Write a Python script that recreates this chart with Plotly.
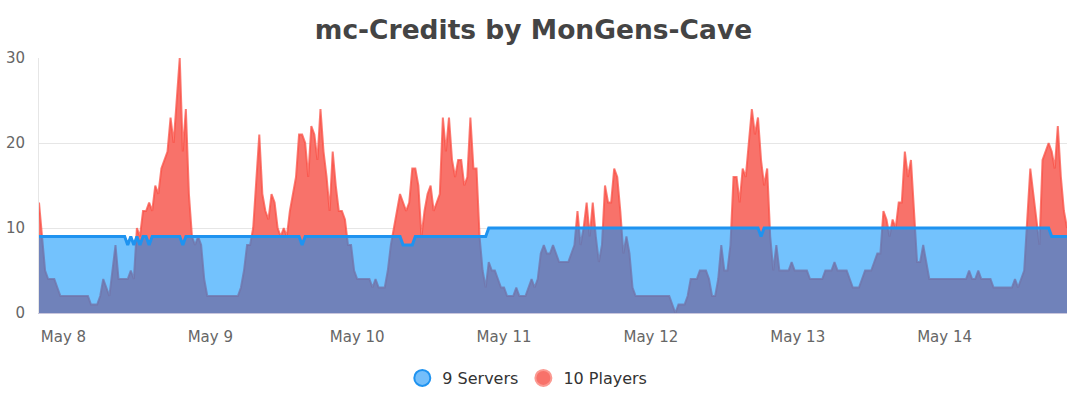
import pandas as pd
import plotly.graph_objects as go

# Half-hourly samples, 2024-05-07 20:00 .. 2024-05-14 20:00
start_time = "2024-05-07 20:00"
n_points = 337

players = [
    13, 9, 5, 4, 4, 4, 3, 2, 2, 2,
    2, 2, 2, 2, 2, 2, 2, 1, 1, 1,
    2, 4, 3, 2, 5, 8, 4, 4, 4, 4,
    5, 4, 10, 9, 12, 12, 13, 12, 15, 14,
    17, 18, 19, 23, 20, 25, 30, 19, 24, 14,
    9, 8, 9, 8, 4, 2, 2, 2, 2, 2,
    2, 2, 2, 2, 2, 2, 3, 5, 8, 8,
    10, 15, 21, 14, 12, 11, 14, 13, 10, 9,
    10, 9, 12, 14, 16, 21, 21, 20, 16, 22,
    21, 18, 24, 19, 16, 12, 19, 15, 12, 12,
    11, 8, 8, 5, 4, 4, 4, 4, 4, 3,
    4, 3, 3, 3, 5, 8, 10, 12, 14, 13,
    12, 13, 17, 17, 15, 9, 12, 14, 15, 12,
    13, 14, 23, 19, 23, 18, 16, 18, 18, 15,
    16, 23, 17, 17, 9, 5, 3, 6, 5, 5,
    4, 3, 3, 2, 2, 2, 3, 2, 2, 2,
    3, 4, 3, 4, 7, 8, 7, 7, 8, 7,
    6, 6, 6, 6, 7, 8, 12, 8, 10, 13,
    9, 13, 9, 6, 8, 15, 13, 13, 17, 16,
    12, 7, 9, 7, 3, 2, 2, 2, 2, 2,
    2, 2, 2, 2, 2, 2, 2, 1, 0, 1,
    1, 1, 2, 4, 4, 4, 5, 5, 5, 4,
    2, 2, 4, 8, 5, 5, 8, 16, 16, 13,
    17, 16, 20, 24, 21, 23, 18, 15, 17, 9,
    5, 8, 5, 5, 5, 5, 6, 5, 5, 5,
    5, 5, 4, 4, 4, 4, 4, 5, 5, 5,
    6, 5, 5, 5, 5, 4, 3, 3, 3, 4,
    5, 5, 5, 6, 7, 7, 12, 11, 9, 11,
    10, 13, 13, 19, 16, 18, 12, 6, 6, 8,
    6, 4, 4, 4, 4, 4, 4, 4, 4, 4,
    4, 4, 4, 4, 5, 4, 4, 5, 4, 4,
    4, 4, 3, 3, 3, 3, 3, 3, 3, 4,
    3, 4, 5, 11, 17, 14, 11, 8, 18, 19,
    20, 19, 17, 22, 16, 12, 10,
]

servers = [
    9, 9, 9, 9, 9, 9, 9, 9, 9, 9,
    9, 9, 9, 9, 9, 9, 9, 9, 9, 9,
    9, 9, 9, 9, 9, 9, 9, 9, 9, 8,
    9, 8, 9, 8, 9, 9, 8, 9, 9, 9,
    9, 9, 9, 9, 9, 9, 9, 8, 9, 9,
    9, 9, 9, 9, 9, 9, 9, 9, 9, 9,
    9, 9, 9, 9, 9, 9, 9, 9, 9, 9,
    9, 9, 9, 9, 9, 9, 9, 9, 9, 9,
    9, 9, 9, 9, 9, 9, 8, 9, 9, 9,
    9, 9, 9, 9, 9, 9, 9, 9, 9, 9,
    9, 9, 9, 9, 9, 9, 9, 9, 9, 9,
    9, 9, 9, 9, 9, 9, 9, 9, 9, 8,
    8, 8, 8, 9, 9, 9, 9, 9, 9, 9,
    9, 9, 9, 9, 9, 9, 9, 9, 9, 9,
    9, 9, 9, 9, 9, 9, 9, 10, 10, 10,
    10, 10, 10, 10, 10, 10, 10, 10, 10, 10,
    10, 10, 10, 10, 10, 10, 10, 10, 10, 10,
    10, 10, 10, 10, 10, 10, 10, 10, 10, 10,
    10, 10, 10, 10, 10, 10, 10, 10, 10, 10,
    10, 10, 10, 10, 10, 10, 10, 10, 10, 10,
    10, 10, 10, 10, 10, 10, 10, 10, 10, 10,
    10, 10, 10, 10, 10, 10, 10, 10, 10, 10,
    10, 10, 10, 10, 10, 10, 10, 10, 10, 10,
    10, 10, 10, 10, 10, 10, 9, 10, 10, 10,
    10, 10, 10, 10, 10, 10, 10, 10, 10, 10,
    10, 10, 10, 10, 10, 10, 10, 10, 10, 10,
    10, 10, 10, 10, 10, 10, 10, 10, 10, 10,
    10, 10, 10, 10, 10, 10, 10, 10, 10, 10,
    10, 10, 10, 10, 10, 10, 10, 10, 10, 10,
    10, 10, 10, 10, 10, 10, 10, 10, 10, 10,
    10, 10, 10, 10, 10, 10, 10, 10, 10, 10,
    10, 10, 10, 10, 10, 10, 10, 10, 10, 10,
    10, 10, 10, 10, 10, 10, 10, 10, 10, 10,
    10, 9, 9, 9, 9, 9, 9,
]

y_ticks = [0, 10, 20, 30]
title_text = "mc-Credits by MonGens-Cave"
servers_label = "Servers"
players_label = "Players"

times = pd.date_range(start_time, periods=n_points, freq="30min")

FONT = "DejaVu Sans"

fig = go.Figure()

# Players area (drawn first, opaque)
fig.add_trace(go.Scatter(
    x=times, y=players, mode="lines", fill="tozeroy",
    fillcolor="#f8726a",
    line=dict(color="rgba(250,80,70,0.75)", width=2),
    showlegend=False, hoverinfo="skip",
))

# Servers area (semi transparent on top)
fig.add_trace(go.Scatter(
    x=times, y=servers, mode="lines", fill="tozeroy",
    fillcolor="rgba(0,143,251,0.55)",
    line=dict(color="#1f93f0", width=3),
    showlegend=False, hoverinfo="skip",
))

# Legend entries
fig.add_trace(go.Scatter(
    x=[None], y=[None], mode="markers",
    name=f"{servers[-1]} {servers_label}",
    marker=dict(size=23, color="#74befa", line=dict(color="#1f93f0", width=2)),
))
fig.add_trace(go.Scatter(
    x=[None], y=[None], mode="markers",
    name=f"{players[-1]} {players_label}",
    marker=dict(size=23, color="#f8726a", line=dict(color="#fb9a92", width=2)),
))

fig.update_layout(
    width=1067, height=400,
    margin=dict(l=39, r=0, t=58, b=87, autoexpand=False),
    paper_bgcolor="white", plot_bgcolor="white",
    font=dict(family=FONT, color="#666666", size=15),
    title=dict(
        text=title_text, x=0.5, xanchor="center", y=0.925, yanchor="middle",
        font=dict(family=FONT, size=26.5, color="#444444", weight="bold"),
    ),
    legend=dict(
        orientation="h", x=0.475, xanchor="center", y=-0.255, yanchor="middle",
        font=dict(family=FONT, size=16, color="#333333"),
        itemsizing="trace", bgcolor="rgba(0,0,0,0)",
    ),
    xaxis=dict(
        type="date",
        range=[times[0], times[-1]],
        tickformat="%b %-d",
        dtick=86400000, tick0="2024-05-08",
        showgrid=False, zeroline=False,
        showline=True, linecolor="#c9c6dc", linewidth=1,
        ticks="outside", ticklen=10, tickcolor="rgba(0,0,0,0)",
        tickfont=dict(size=15, color="#666666"),
        automargin=False,
    ),
    yaxis=dict(
        range=[0, 30], tickvals=y_ticks,
        showgrid=True, gridcolor="#e6e6e6", gridwidth=1,
        zeroline=False,
        showline=True, linecolor="#e6e6e6", linewidth=1,
        ticks="outside", ticklen=10, tickcolor="rgba(0,0,0,0)",
        tickfont=dict(size=15, color="#666666"),
        automargin=False,
    ),
)

# remove the default page margin so the figure sits at the window origin
fig.write_html(
    "out.html",
    config={"displayModeBar": False},
    post_script="document.body.style.margin='0';",
)
